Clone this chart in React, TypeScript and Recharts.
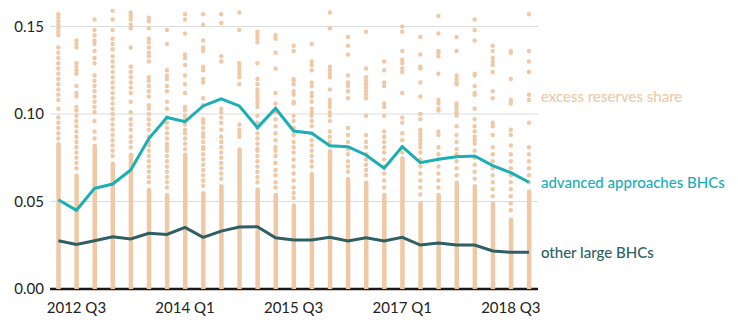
import React from 'react';
import { ComposedChart, Line, Bar, Scatter, XAxis, YAxis, CartesianGrid, ReferenceDot } from 'recharts';

const quarters = [
  '2012 Q2', '2012 Q3', '2012 Q4', '2013 Q1', '2013 Q2', '2013 Q3', '2013 Q4',
  '2014 Q1', '2014 Q2', '2014 Q3', '2014 Q4', '2015 Q1', '2015 Q2', '2015 Q3',
  '2015 Q4', '2016 Q1', '2016 Q2', '2016 Q3', '2016 Q4', '2017 Q1', '2017 Q2',
  '2017 Q3', '2017 Q4', '2018 Q1', '2018 Q2', '2018 Q3', '2018 Q4',
];
const tickQuarters = ['2012 Q3', '2014 Q1', '2015 Q3', '2017 Q1', '2018 Q3'];
const yTicks = [0, 0.05, 0.1, 0.15];

const advancedApproaches = [
  0.051, 0.045, 0.0575, 0.060, 0.068, 0.086, 0.098, 0.0956, 0.1046, 0.1086,
  0.1046, 0.0922, 0.1032, 0.0903, 0.089, 0.0819, 0.0813, 0.0766, 0.069, 0.0813,
  0.0722, 0.0741, 0.0756, 0.076, 0.0705, 0.0665, 0.061,
];
const otherLarge = [
  0.0276, 0.0255, 0.0276, 0.0299, 0.0286, 0.0318, 0.0312, 0.0352, 0.0295, 0.0331,
  0.0354, 0.0356, 0.0293, 0.028, 0.028, 0.0295, 0.0274, 0.0293, 0.0274, 0.0295,
  0.0251, 0.0263, 0.0251, 0.0251, 0.0217, 0.021, 0.021,
];
// level up to which individual bank shares overlap into a solid column
const denseTop = [
  0.084, 0.066, 0.083, 0.073, 0.078, 0.058, 0.055, 0.078, 0.056, 0.060,
  0.081, 0.058, 0.055, 0.049, 0.067, 0.080, 0.064, 0.062, 0.055, 0.076,
  0.050, 0.055, 0.062, 0.060, 0.050, 0.041, 0.057,
];
// individually visible excess reserves shares above the solid column
const excessDots: number[][] = [
  [0.086, 0.089, 0.092, 0.095, 0.098, 0.103, 0.108, 0.111, 0.114, 0.117, 0.120, 0.123, 0.126, 0.129, 0.132, 0.135, 0.138, 0.145, 0.147, 0.149, 0.151, 0.153, 0.155, 0.157],
  [0.069, 0.072, 0.075, 0.078, 0.081, 0.084, 0.087, 0.090, 0.093, 0.096, 0.099, 0.102, 0.104, 0.110, 0.112, 0.116, 0.123, 0.125, 0.127, 0.129, 0.138, 0.140, 0.142],
  [0.086, 0.090, 0.096, 0.101, 0.104, 0.107, 0.110, 0.113, 0.116, 0.119, 0.122, 0.129, 0.132, 0.136, 0.140, 0.142, 0.145, 0.148, 0.154],
  [0.076, 0.079, 0.082, 0.085, 0.088, 0.091, 0.094, 0.097, 0.100, 0.103, 0.106, 0.109, 0.112, 0.115, 0.118, 0.121, 0.124, 0.127, 0.130, 0.133, 0.137, 0.140, 0.143, 0.148, 0.154, 0.159],
  [0.081, 0.084, 0.087, 0.091, 0.094, 0.097, 0.101, 0.107, 0.112, 0.115, 0.118, 0.121, 0.124, 0.127, 0.138, 0.149, 0.151, 0.154, 0.156, 0.158],
  [0.061, 0.064, 0.067, 0.070, 0.073, 0.076, 0.079, 0.082, 0.084, 0.087, 0.091, 0.094, 0.097, 0.100, 0.103, 0.105, 0.110, 0.113, 0.116, 0.119, 0.121, 0.130, 0.133, 0.135, 0.138, 0.141, 0.143, 0.149, 0.153, 0.155],
  [0.058, 0.061, 0.064, 0.067, 0.070, 0.073, 0.076, 0.079, 0.081, 0.083, 0.086, 0.089, 0.092, 0.095, 0.098, 0.103, 0.107, 0.113, 0.116, 0.120, 0.122, 0.125, 0.140, 0.148],
  [0.080, 0.083, 0.086, 0.089, 0.091, 0.094, 0.097, 0.099, 0.102, 0.104, 0.112, 0.117, 0.122, 0.128, 0.132, 0.134, 0.146, 0.154, 0.157],
  [0.059, 0.062, 0.065, 0.068, 0.071, 0.074, 0.077, 0.080, 0.081, 0.084, 0.087, 0.089, 0.092, 0.095, 0.097, 0.105, 0.109, 0.118, 0.120, 0.125, 0.127, 0.136, 0.138, 0.142, 0.151, 0.157],
  [0.063, 0.066, 0.069, 0.072, 0.075, 0.078, 0.081, 0.084, 0.087, 0.091, 0.095, 0.098, 0.101, 0.103, 0.130, 0.133, 0.152, 0.157],
  [0.087, 0.089, 0.091, 0.094, 0.117, 0.121, 0.123, 0.125, 0.127, 0.129, 0.148, 0.158],
  [0.061, 0.064, 0.067, 0.070, 0.073, 0.076, 0.079, 0.080, 0.083, 0.086, 0.089, 0.092, 0.095, 0.099, 0.104, 0.106, 0.108, 0.110, 0.112, 0.114, 0.117, 0.120, 0.129, 0.141, 0.143, 0.145, 0.147],
  [0.058, 0.061, 0.065, 0.068, 0.072, 0.076, 0.079, 0.081, 0.085, 0.089, 0.093, 0.097, 0.101, 0.106, 0.112, 0.126, 0.135, 0.143, 0.145],
  [0.052, 0.055, 0.058, 0.062, 0.066, 0.070, 0.074, 0.078, 0.081, 0.084, 0.088, 0.092, 0.096, 0.099, 0.106, 0.107, 0.111, 0.113, 0.117, 0.119, 0.120, 0.136, 0.139],
  [0.070, 0.073, 0.076, 0.079, 0.082, 0.085, 0.089, 0.093, 0.096, 0.099, 0.101, 0.103, 0.107, 0.110, 0.112, 0.116, 0.118, 0.125, 0.128, 0.130, 0.140],
  [0.082, 0.084, 0.087, 0.090, 0.096, 0.099, 0.101, 0.104, 0.106, 0.108, 0.114, 0.121, 0.123, 0.125, 0.127, 0.149, 0.158],
  [0.067, 0.070, 0.073, 0.077, 0.080, 0.084, 0.088, 0.092, 0.109, 0.113, 0.116, 0.118, 0.122, 0.134, 0.139, 0.144],
  [0.065, 0.068, 0.071, 0.074, 0.077, 0.081, 0.084, 0.088, 0.099, 0.109, 0.111, 0.113, 0.115, 0.117, 0.119, 0.121, 0.126, 0.147],
  [0.058, 0.062, 0.066, 0.070, 0.074, 0.078, 0.081, 0.084, 0.087, 0.090, 0.099, 0.104, 0.106, 0.116, 0.118, 0.125, 0.130],
  [0.078, 0.081, 0.085, 0.089, 0.095, 0.098, 0.112, 0.124, 0.126, 0.129, 0.131, 0.136, 0.147, 0.150],
  [0.054, 0.058, 0.062, 0.066, 0.070, 0.074, 0.078, 0.081, 0.083, 0.085, 0.087, 0.089, 0.091, 0.097, 0.100, 0.110, 0.118, 0.126, 0.127, 0.134, 0.144],
  [0.058, 0.062, 0.066, 0.070, 0.074, 0.077, 0.081, 0.088, 0.090, 0.102, 0.103, 0.106, 0.108, 0.123, 0.133, 0.135, 0.136, 0.146, 0.156],
  [0.065, 0.069, 0.073, 0.077, 0.080, 0.084, 0.088, 0.093, 0.099, 0.101, 0.103, 0.105, 0.106, 0.117, 0.118, 0.120, 0.122, 0.136, 0.144],
  [0.063, 0.067, 0.071, 0.075, 0.079, 0.083, 0.085, 0.087, 0.090, 0.093, 0.097, 0.103, 0.111, 0.112, 0.116, 0.122, 0.123, 0.142, 0.148, 0.154],
  [0.053, 0.057, 0.061, 0.065, 0.069, 0.073, 0.077, 0.081, 0.088, 0.093, 0.095, 0.109, 0.113, 0.124, 0.128, 0.130, 0.132, 0.136, 0.139],
  [0.045, 0.049, 0.053, 0.057, 0.061, 0.065, 0.069, 0.073, 0.077, 0.082, 0.088, 0.091, 0.106, 0.108, 0.120, 0.135, 0.136],
  [0.061, 0.065, 0.069, 0.073, 0.077, 0.081, 0.095, 0.108, 0.111, 0.124, 0.130, 0.136, 0.157],
];
const excessLabelLevel = 0.1097;

const PEACH = '#efc9a6';
const TEAL = '#1aaeb5';
const DARK = '#2e5f63';
const FONT = 'Lato, "Open Sans", sans-serif';

const chartData = quarters.map((q, i) => ({
  i,
  q,
  adv: advancedApproaches[i],
  other: otherLarge[i],
  dense: denseTop[i],
}));
const dotData = excessDots.flatMap((vals, i) => vals.map((v) => ({ i, v })));
const tickIdx = tickQuarters.map((t) => quarters.indexOf(t));
const lastIdx = quarters.length - 1;

const DotShape = (props: any) => (
  <circle cx={props.cx} cy={props.cy} r={2.2} fill={PEACH} />
);

const endLabel = (text: string, color: string) => (props: any) => {
  if (props.index !== lastIdx) return <g key={`l-${props.index}`} />;
  return (
    <text
      key={`l-${props.index}`}
      x={props.x + 12}
      y={props.y}
      dy="0.35em"
      fill={color}
      fontSize={15}
      fontFamily={FONT}
      fontWeight={500}
    >
      {text}
    </text>
  );
};

export default function App() {
  return (
    <ComposedChart
      width={722}
      height={310}
      data={chartData}
      margin={{ top: 1, right: 192, bottom: 0, left: 0 }}
    >
      <CartesianGrid vertical={false} horizontalValues={[0.05, 0.1, 0.15]} stroke="#dcdcdc" strokeWidth={1} />
      <CartesianGrid vertical={false} horizontalValues={[0]} stroke="#1a1a1a" strokeWidth={2.5} />
      <XAxis
        dataKey="i"
        type="number"
        domain={[-0.46, 26.5]}
        ticks={tickIdx}
        tickFormatter={(v: number) => quarters[v]}
        axisLine={false}
        tickLine={false}
        tickSize={6}
        tickMargin={7}
        height={29}
        interval={0}
        tick={{ fill: '#222', fontSize: 15, fontFamily: FONT }}
        allowDataOverflow
      />
      <YAxis
        type="number"
        domain={[0, 0.16]}
        ticks={yTicks}
        tickFormatter={(v: number) => v.toFixed(2)}
        axisLine={false}
        tickLine={false}
        tickSize={6}
        tickMargin={0}
        width={42}
        interval={0}
        tick={{ fill: '#222', fontSize: 15, fontFamily: FONT }}
        allowDataOverflow
      />
      <Bar dataKey="dense" barSize={4.5} fill={PEACH} radius={[2.2, 2.2, 0, 0]} isAnimationActive={false} />
      <Scatter data={dotData} dataKey="v" shape={DotShape} isAnimationActive={false} />
      <Line
        dataKey="other"
        type="linear"
        stroke={DARK}
        strokeWidth={3}
        dot={false}
        activeDot={false}
        isAnimationActive={false}
        label={endLabel('other large BHCs', DARK)}
        zIndex={800}
      />
      <Line
        dataKey="adv"
        type="linear"
        stroke={TEAL}
        strokeWidth={3}
        dot={false}
        activeDot={false}
        isAnimationActive={false}
        label={endLabel('advanced approaches BHCs', TEAL)}
        zIndex={800}
      />
      <ReferenceDot
        x={lastIdx}
        y={excessLabelLevel}
        r={0}
        fill="none"
        stroke="none"
        label={{ value: 'excess reserves share', position: 'right', offset: 12, fill: '#f0c9a6', fontSize: 15, fontFamily: FONT, fontWeight: 500 }}
      />
    </ComposedChart>
  );
}
